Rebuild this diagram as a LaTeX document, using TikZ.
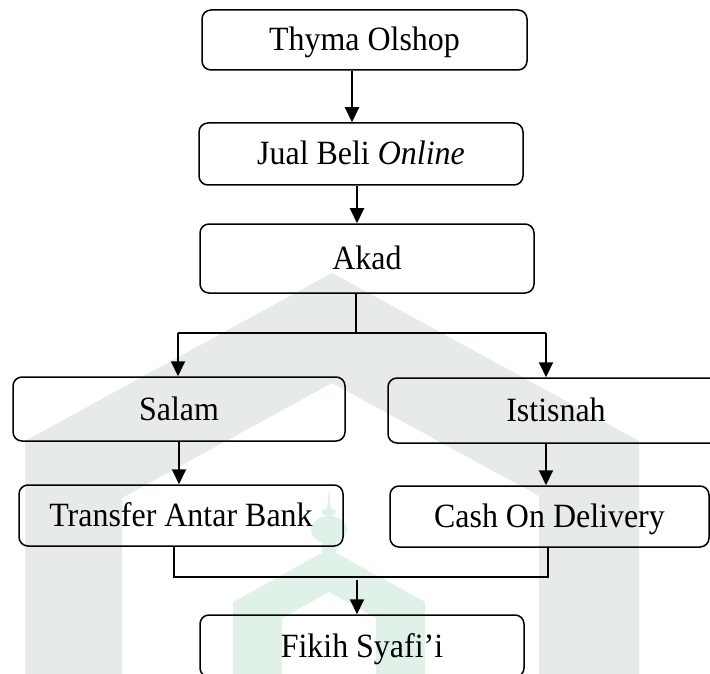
\documentclass[tikz,border=0pt]{standalone}
\usepackage{fontspec}
\setmainfont{Liberation Serif}[FakeStretch=0.94]
\usetikzlibrary{arrows.meta}
\definecolor{wmgrey}{RGB}{230,235,232}
\definecolor{wmgreen}{RGB}{224,242,232}
\begin{document}
\begin{tikzpicture}[x=1pt,y=-1pt,
  box/.style={draw, line width=1.5pt, rounded corners=9pt, inner sep=0pt,
    text height=22pt, text depth=0pt, font=\fontsize{34}{40}\selectfont, align=center},
  arr/.style={line width=2pt, -{Triangle[length=15pt,width=14pt]}},
  conn/.style={line width=1.8pt},
  stem/.style={line width=1.2pt}]
\clip (0,0) rectangle (710,674);
% watermark
\fill[wmgrey] (332,273) -- (639,441) -- (639,674) -- (539,674) -- (539,496) -- (332,383)
  -- (122,498) -- (122,674) -- (25,674) -- (25,441) -- cycle;
\fill[wmgreen] (329,549) -- (425,602) -- (425,674) -- (376,674) -- (376,618) -- (329,592)
  -- (282,618) -- (282,674) -- (233,674) -- (233,602) -- cycle;
\fill[wmgreen] (329,488) -- (331,508) -- (327,508) -- cycle;
\fill[wmgreen] (329,512) ellipse (7pt and 4pt);
\fill[wmgreen] (329,530) ellipse (18pt and 14pt);
\fill[wmgreen] (322,540) rectangle (336,552);
% boxes
\node[box, minimum width=325pt, minimum height=60pt] (thyma) at (364.5,40) {Thyma Olshop};
\node[box, minimum width=324pt, minimum height=62pt] (jual) at (361,154) {Jual Beli \textit{Online}};
\node[box, minimum width=334pt, minimum height=69pt] (akad) at (367,258.5) {Akad};
\node[box, minimum width=332pt, minimum height=64pt] (salam) at (179,409) {Salam};
\node[box, minimum width=336pt, minimum height=65pt] (istisnah) at (556,410.5) {Istisnah};
\node[box, minimum width=324pt, minimum height=61pt] (transfer) at (181,515.5) {Transfer Antar Bank};
\node[box, minimum width=319pt, minimum height=61pt] (cod) at (549.5,516.5) {Cash On Delivery};
\node[box, minimum width=324pt, minimum height=62pt] (fikih) at (362,646) {Fikih Syafi’i};
% connectors
\coordinate (split) at (356,333);
\coordinate (bl) at (178,333);
\coordinate (br) at (546,333);
\coordinate (jl) at (174,577);
\coordinate (jr) at (548,577);
\coordinate (join) at (357,580);
\draw[arr] ([xshift=-12.5pt]thyma.south) -- ([xshift=-12.5pt]thyma.south |- jual.north);
\draw[arr] ([xshift=-4pt]jual.south) -- ([xshift=-4pt]jual.south |- akad.north);
\draw[stem] ([xshift=-11pt]akad.south) -- (split);
\draw[conn] (bl) -- (br);
\draw[arr] (bl) -- (bl |- salam.north);
\draw[arr] (br) -- (br |- istisnah.north);
\draw[arr] (salam.south) -- (salam.south |- transfer.north);
\draw[arr] ([xshift=-10pt]istisnah.south) -- ([xshift=-10pt]istisnah.south |- cod.north);
\draw[conn] (jl |- transfer.south) -- (jl) -- (jr) -- (jr |- cod.south);
\draw[arr] (join) -- (join |- fikih.north);
\end{tikzpicture}
\end{document}
